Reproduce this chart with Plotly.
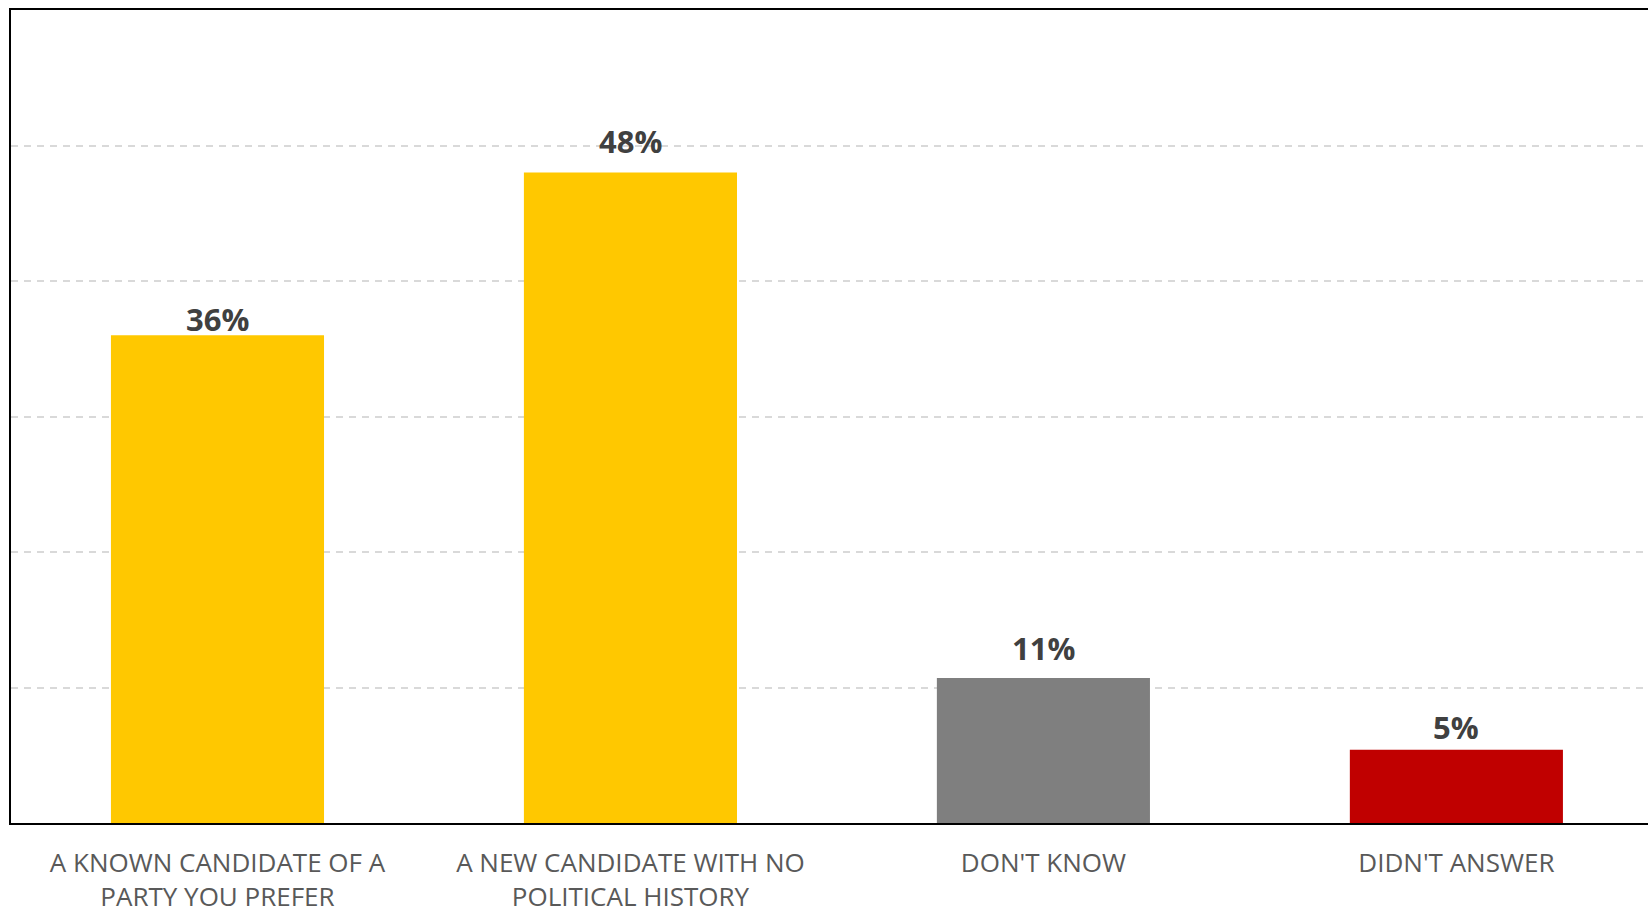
import plotly.graph_objects as go

categories = ["A KNOWN CANDIDATE OF A<br>PARTY YOU PREFER",
              "A NEW CANDIDATE WITH NO<br>POLITICAL HISTORY",
              "DON'T KNOW",
              "DIDN'T ANSWER"]
values = [36.0, 48.0, 10.7, 5.4]
value_labels = ["36%", "48%", "11%", "5%"]
colors = ["#FFC800", "#FFC800", "#7F7F7F", "#C00000"]

# pixel nudges of the value labels (layout only)
label_yshift = [-7, 9, 7, 0]

fig = go.Figure()
fig.add_trace(go.Bar(
    x=categories, y=values, marker=dict(color=colors, line=dict(width=0)),
    hoverinfo="skip", showlegend=False,
))

for c, v, t, s in zip(categories, values, value_labels, label_yshift):
    fig.add_annotation(x=c, y=v, text=t, showarrow=False, yanchor="bottom",
                       yshift=s,
                       font=dict(family="Open Sans", size=31, color="#404040", weight="bold"))

fig.update_layout(
    width=1648, height=913,
    margin=dict(l=11, r=0, t=10, b=90, autoexpand=False),
    paper_bgcolor="white", plot_bgcolor="white",
    bargap=0.484,
    font=dict(family="Open Sans", color="#595959"),
)
fig.update_xaxes(
    range=[-0.5, 3.464], automargin=False,
    showline=True, linecolor="black", linewidth=2, mirror=True,
    ticks="", showgrid=False,
    tickfont=dict(family="Open Sans", size=26, color="#595959"),
    ticklabelstandoff=16,
)
fig.update_yaxes(
    range=[0, 60], dtick=10, showticklabels=False, automargin=False,
    showgrid=True, gridcolor="#D9D9D9", gridwidth=1.5, griddash="7px,6px",
    zeroline=False,
    showline=True, linecolor="black", linewidth=2, mirror=False,
)

fig.write_html(
    "out.html",
    config={"displayModeBar": False},
    post_script="document.body.style.margin='0px';document.body.style.overflow='hidden';",
)
